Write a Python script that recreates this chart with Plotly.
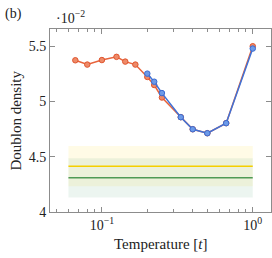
import plotly.graph_objects as go

# Data (doublon density in units of 1e-2)
t_orange = [1/15, 0.08, 0.1, 0.125, 1/7, 1/6, 0.2, 2/9, 0.25, 1/3, 0.4, 0.5, 2/3, 1.0]
d_orange = [5.373, 5.334, 5.375, 5.404, 5.361, 5.334, 5.222, 5.149, 5.036, 4.858, 4.749, 4.713, 4.804, 5.50]
t_blue = [0.2, 2/9, 0.25, 1/3, 0.4, 0.5, 2/3, 1.0]
d_blue = [5.252, 5.179, 5.076, 4.858, 4.749, 4.713, 4.804, 5.479]
band_x = [0.06, 1.0]
yellow_val, yellow_err = 4.415, 0.182
green_val, green_err = 4.309, 0.178
xtick_vals = [0.1, 1.0]
xtick_text = ["10<sup>−1</sup>", "10<sup>0</sup>"]
ytick_vals = [4, 4.5, 5, 5.5]
ytick_text = ["4", "4.5", "5", "5.5"]

FONT = "Liberation Serif"
TXT = "#222"
fig = go.Figure()

def band(val, err, fillcol):
    fig.add_trace(go.Scatter(x=band_x, y=[val + err] * 2, mode="lines",
                             line=dict(width=0), hoverinfo="skip", showlegend=False))
    fig.add_trace(go.Scatter(x=band_x, y=[val - err] * 2, mode="lines",
                             line=dict(width=0), fill="tonexty", fillcolor=fillcol,
                             hoverinfo="skip", showlegend=False))

band(yellow_val, yellow_err, "rgba(255,225,80,0.14)")
band(green_val, green_err, "rgba(110,180,140,0.13)")

fig.add_trace(go.Scatter(x=band_x, y=[green_val] * 2, mode="lines",
                         line=dict(color="#4f9a55", width=1.5), showlegend=False))
fig.add_trace(go.Scatter(x=band_x, y=[yellow_val] * 2, mode="lines",
                         line=dict(color="#f5cf00", width=1.5), showlegend=False))

fig.add_trace(go.Scatter(x=t_orange, y=d_orange, mode="lines+markers",
                         line=dict(color="#e8643c", width=1.5),
                         marker=dict(size=5.5, color="#ee8a68", line=dict(color="#e0552e", width=1)),
                         showlegend=False))
fig.add_trace(go.Scatter(x=t_blue, y=d_blue, mode="lines+markers",
                         line=dict(color="#3f72d8", width=1.5),
                         marker=dict(size=5.5, color="#6d9ae8", line=dict(color="#3a6ad0", width=1)),
                         showlegend=False))

axcol = "#8c8c8c"
fig.update_xaxes(type="log", range=[-1.344, 0.121], showgrid=False, zeroline=False,
                 automargin=False,
                 showline=True, linecolor=axcol, linewidth=1, mirror="ticks",
                 ticks="inside", ticklen=5, tickcolor=axcol,
                 tickvals=xtick_vals, ticktext=xtick_text,
                 tickfont=dict(family=FONT, size=14, color=TXT),
                 minor=dict(tickvals=[0.05, 0.06, 0.07, 0.08, 0.09, 0.2, 0.3, 0.4, 0.5, 0.6, 0.7, 0.8, 0.9],
                            ticks="inside", ticklen=3, tickcolor=axcol, showgrid=False))
fig.update_yaxes(range=[4, 5.656], showgrid=False, zeroline=False,
                 automargin=False,
                 showline=True, linecolor=axcol, linewidth=1, mirror="ticks",
                 ticks="inside", ticklen=5, tickcolor=axcol,
                 tickvals=ytick_vals, ticktext=ytick_text,
                 tickfont=dict(family=FONT, size=14, color=TXT))

fig.add_annotation(text="Temperature [<i>t</i>]", xref="paper", yref="paper", x=0.5, y=-0.175,
                   xanchor="center", yanchor="middle", showarrow=False,
                   font=dict(family=FONT, size=15, color=TXT))
fig.add_annotation(text="Doublon density", xref="paper", yref="paper", x=-0.158, y=0.5,
                   xanchor="center", yanchor="middle", showarrow=False, textangle=-90,
                   font=dict(family=FONT, size=15, color=TXT))
fig.add_annotation(text="(b)", xref="paper", yref="paper", x=-0.213, y=1.08,
                   xanchor="left", yanchor="middle", showarrow=False,
                   font=dict(family=FONT, size=14, color=TXT))
fig.add_annotation(text="·10<sup>−2</sup>", xref="paper", yref="paper", x=0.02, y=1.065,
                   xanchor="left", yanchor="middle", showarrow=False,
                   font=dict(family=FONT, size=14, color=TXT))

fig.update_layout(width=272, height=258, margin=dict(l=50, r=1, t=29, b=46),
                  plot_bgcolor="white", paper_bgcolor="white")
fig.write_html("out.html", config={"displayModeBar": False},
               post_script="document.body.style.margin='0';document.body.style.padding='0';")
